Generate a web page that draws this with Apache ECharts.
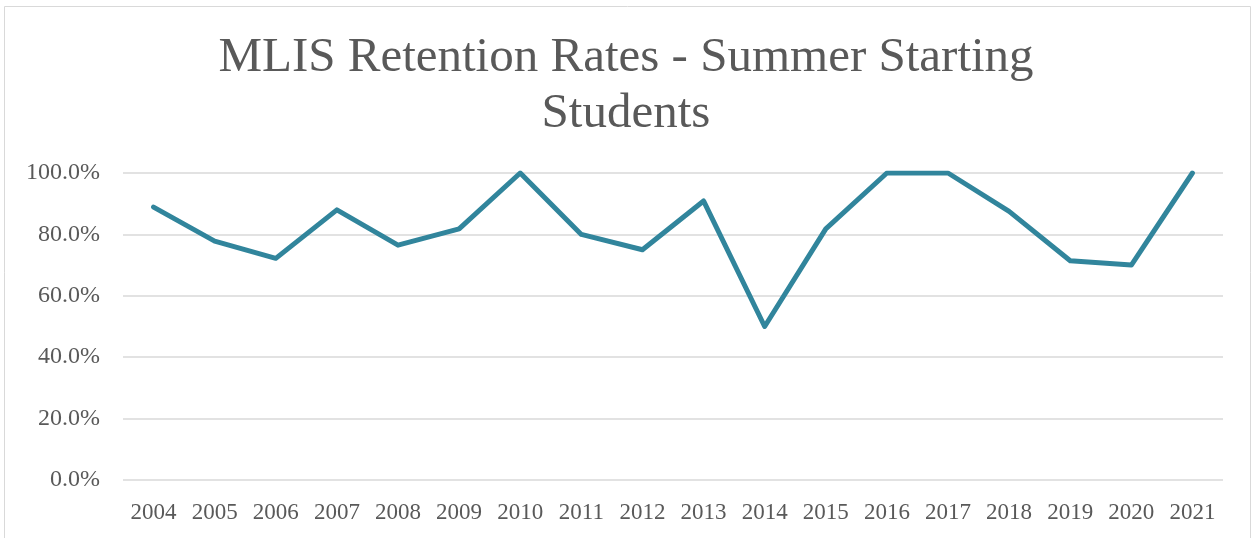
<!DOCTYPE html>
<html><head><meta charset="utf-8">
<script src="https://cdn.jsdelivr.net/npm/echarts@6/dist/echarts.min.js"></script>
<style>html,body{margin:0;padding:0;background:#fff}#c{width:1252px;height:538px}</style>
</head><body><div id="c"></div>
<script>
const years = ['2004','2005','2006','2007','2008','2009','2010','2011','2012','2013','2014','2015','2016','2017','2018','2019','2020','2021'];
const retention = [0.889,0.778,0.722,0.880,0.765,0.818,1.0,0.800,0.750,0.909,0.500,0.818,1.0,1.0,0.875,0.714,0.700,1.0];
const yTicks = [0,0.2,0.4,0.6,0.8,1.0];
const titleText = 'MLIS Retention Rates - Summer Starting\nStudents';

const chart = echarts.init(document.getElementById('c'));
const font = "'Liberation Serif', serif";
chart.setOption({
  animation:false,
  graphic:[{type:'rect',shape:{x:4.5,y:6.5,width:1246,height:540},style:{fill:'none',stroke:'#d9d9d9',lineWidth:1}}],
  title:{text:titleText,left:'center',top:25,textStyle:{fontFamily:font,fontSize:49,fontWeight:'normal',color:'#595959',lineHeight:56}},
  grid:{left:123,right:29,top:173,bottom:58},
  xAxis:{type:'category',data:years,boundaryGap:true,axisLine:{show:false},axisTick:{show:false},
    axisLabel:{fontFamily:font,fontSize:23,color:'#595959',margin:21}},
  yAxis:{type:'value',min:yTicks[0],max:yTicks[yTicks.length-1],interval:0.2,
    axisLabel:{fontFamily:font,fontSize:24,color:'#595959',margin:23,formatter:v=>(v*100).toFixed(1)+'%'},
    splitLine:{lineStyle:{color:'#d9d9d9',width:1.5}},axisLine:{show:false},axisTick:{show:false}},
  series:[{type:'line',data:retention,symbol:'none',lineStyle:{color:'#31859c',width:5,join:'round',cap:'round'}}]
});
</script></body></html>
